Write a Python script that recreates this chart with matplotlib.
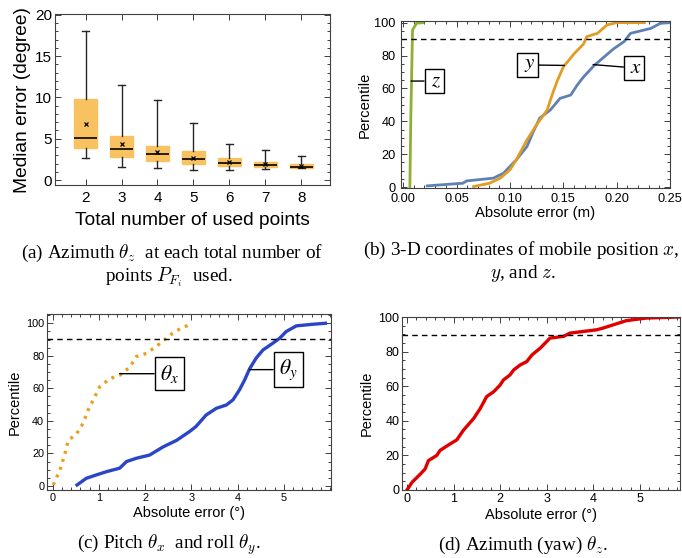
import matplotlib
matplotlib.use("Agg")
import matplotlib.pyplot as plt
from matplotlib.ticker import MultipleLocator

plt.rcParams['font.family'] = ['Liberation Sans', 'DejaVu Sans']
plt.rcParams['mathtext.fontset'] = 'stix'

# (a) box plot stats, median azimuth error per number of used points
npoints = [2, 3, 4, 5, 6, 7, 8]
whis_lo = [2.63, 1.60, 1.41, 1.21, 1.21, 1.29, 1.48]
q1 = [3.84, 2.75, 2.34, 1.94, 1.70, 1.54, 1.50]
med = [5.05, 3.72, 3.11, 2.55, 2.02, 1.78, 1.62]
q3 = [9.78, 5.33, 4.12, 3.50, 2.67, 2.18, 1.94]
whis_hi = [18.1, 11.5, 9.7, 6.87, 4.32, 3.64, 2.90]
means = [6.75, 4.36, 3.39, 2.70, 2.18, 1.90, 1.74]

# (b) CDF of position error (m)
bx_err = [0.0226, 0.056, 0.0595, 0.0846, 0.094, 0.106, 0.116, 0.122, 0.128, 0.138, 0.147,
          0.157, 0.163, 0.169, 0.179, 0.188, 0.197, 0.207, 0.213, 0.232, 0.241, 0.25]
bx_pct = [0.8, 2.4, 3.8, 5.5, 8.5, 16.6, 24.7, 33.8, 42, 47, 54,
          56, 62, 67, 74, 79, 84, 88.5, 93.5, 96.5, 99.6, 100]
by_err = [0.066, 0.081, 0.091, 0.100, 0.106, 0.116, 0.125, 0.135, 0.139, 0.144, 0.150,
          0.160, 0.169, 0.172, 0.182, 0.191, 0.200, 0.226]
by_pct = [0.4, 2.4, 5.5, 10.5, 16.6, 28.7, 37.9, 47, 55, 64, 73,
          81, 87, 91.5, 93.5, 98.6, 100, 100]
bz_err = [0.0063, 0.0072, 0.0088, 0.0125, 0.0185]
bz_pct = [0, 43, 95.5, 99.6, 100]

# (c) pitch / roll error (deg)
tx_err = [0.014, 0.16, 0.27, 0.34, 0.52, 0.66, 0.77, 0.88, 1.02, 1.24, 1.45, 1.67, 1.81,
          2.03, 2.24, 2.46, 2.60, 2.78, 2.96]
tx_pct = [0.6, 9.8, 20, 28, 32, 38.5, 46.7, 52.9, 61, 66, 68, 73, 79.5,
          81.5, 85.7, 90.8, 93.9, 97, 99]
ty_err = [0.53, 0.73, 0.95, 1.17, 1.45, 1.60, 1.81, 2.10, 2.39, 2.68, 2.96, 3.10, 3.32, 3.54,
          3.76, 3.90, 4.04, 4.15, 4.26, 4.40, 4.55, 4.76, 4.91, 5.05, 5.27, 5.63, 5.90]
ty_pct = [0.6, 4.7, 6.8, 8.8, 10.9, 15, 17, 19, 24, 28, 33.4, 36.5, 43.6, 47.7,
          49.8, 52.9, 59, 65, 72, 78.5, 83.6, 87.7, 90.8, 94.9, 98.4, 99.4, 100]

# (d) yaw error (deg)
tz_err = [0, 0.11, 0.29, 0.39, 0.46, 0.64, 0.71, 0.93, 1.07, 1.21, 1.43, 1.57, 1.71, 1.86,
          2.00, 2.07, 2.21, 2.29, 2.43, 2.57, 2.68, 2.86, 3.07, 3.36, 3.50, 4.07, 4.21,
          4.43, 4.71, 5.14, 5.86]
tz_pct = [0, 4.5, 9.3, 12.2, 17, 20, 22.9, 26.7, 29, 34.5, 41.3, 47, 54, 56.8,
          60.7, 63.6, 66.5, 69.4, 72.3, 74.2, 78, 82, 87.8, 88.8, 90.7, 92.6, 93.6,
          95.5, 97.9, 99.4, 100]

W, H = 682, 558
fig = plt.figure(figsize=(W / 100, H / 100), dpi=100)


def axes_px(left, top, right, bottom):
    return fig.add_axes([left / W, 1 - bottom / H, (right - left) / W, (bottom - top) / H])


def frame(ax, size):
    for s in ax.spines.values():
        s.set_color('0.25')
        s.set_linewidth(0.8)
    ax.tick_params(which='both', direction='in', top=True, right=True, colors='0.25',
                   labelcolor='black', labelsize=size, width=0.7, pad=2)
    ax.tick_params(which='major', length=4)
    ax.tick_params(which='minor', length=2)


def tag(ax, text, xy, xytext, size, pad):
    ax.annotate(text, xy=xy, xytext=xytext, ha='center', va='center', fontsize=size,
                bbox=dict(boxstyle='square,pad=%g' % pad, fc='white', ec='black', lw=1),
                arrowprops=dict(arrowstyle='-', color='black', lw=1, shrinkA=0, shrinkB=0))


# ---- (a)
ax = axes_px(55, 14, 330, 185)
stats = []
for i in range(len(npoints)):
    stats.append(dict(whislo=whis_lo[i], q1=q1[i], med=med[i], q3=q3[i], whishi=whis_hi[i],
                      mean=means[i], fliers=[]))
ax.bxp(stats, positions=npoints, widths=0.65, patch_artist=True, showmeans=True,
       boxprops=dict(facecolor='#F9C260', edgecolor='#F9C260'),
       medianprops=dict(color='black', lw=1.2),
       whiskerprops=dict(color='0.15', lw=1), capprops=dict(color='0.15', lw=1),
       capwidths=0.2,
       meanprops=dict(marker='x', markeredgecolor='black', markersize=3.5, markeredgewidth=0.9))
ax.set_xlim(1.15, 8.8)
ax.set_ylim(-0.6, 20.1)
ax.set_xticks(npoints)
ax.set_xticklabels([str(n) for n in npoints])
ax.yaxis.set_major_locator(MultipleLocator(5))
ax.yaxis.set_minor_locator(MultipleLocator(1))
frame(ax, 11)
ax.tick_params(axis='x', pad=4)
ax.set_xlabel('Total number of used points', fontsize=13.8, labelpad=5)
ax.set_ylabel('Median error (degree)', fontsize=13.8, labelpad=3)

# ---- (b)
ax = axes_px(401, 21, 670, 188)
ax.plot(bz_err, bz_pct, color='#8FB032', lw=2)
ax.plot(bx_err, bx_pct, color='#5E81B5', lw=2)
ax.plot(by_err, by_pct, color='#E19C24', lw=2)
ax.axhline(90, color='black', lw=1, ls=(0, (4, 3)))
ax.set_xlim(-0.002, 0.25)
ax.set_ylim(-0.5, 101)
ax.xaxis.set_minor_locator(MultipleLocator(0.01))
ax.yaxis.set_major_locator(MultipleLocator(20))
ax.yaxis.set_minor_locator(MultipleLocator(5))
ax.set_xticks([0, 0.05, 0.1, 0.15, 0.2, 0.25])
ax.set_xticklabels(['0.00', '0.05', '0.10', '0.15', '0.20', '0.25'])
frame(ax, 9.2)
ax.tick_params(axis='y', pad=4)
ax.tick_params(axis='x', pad=3.5)
ax.set_xlabel('Absolute error (m)', fontsize=10.7, labelpad=1)
ax.set_ylabel('Percentile', fontsize=10.7, labelpad=2)
tag(ax, r'$\;z\;$', (0.0075, 64.5), (0.029, 64.5), 15, 0.12)
tag(ax, r'$\;y\;$', (0.151, 74), (0.1165, 74.3), 15, 0.12)
tag(ax, r'$\;x\;$', (0.178, 74.5), (0.2165, 72.5), 15, 0.12)

# ---- (c)
ax = axes_px(47, 314, 331, 490)
ax.plot(tx_err, tx_pct, color='#E8A020', lw=2.4, ls=(0, (0.9, 1.6)))
ax.plot(ty_err, ty_pct, color='#2A45C8', lw=2.4)
ax.axhline(90.5, color='black', lw=1, ls=(0, (4, 3)))
ax.set_xlim(-0.12, 6.02)
ax.set_ylim(-2.5, 105.7)
ax.set_xticks([0, 1, 2, 3, 4, 5])
ax.xaxis.set_minor_locator(MultipleLocator(0.2))
ax.yaxis.set_major_locator(MultipleLocator(20))
ax.yaxis.set_minor_locator(MultipleLocator(5))
frame(ax, 7.8)
ax.set_xlabel('Absolute error (°)', fontsize=10.5, labelpad=2)
ax.set_ylabel('Percentile', fontsize=10.5, labelpad=3)
tag(ax, r'$\theta_x$', (1.45, 69), (2.53, 69), 15.5, 0.25)
tag(ax, r'$\theta_y$', (4.26, 71.5), (5.1, 71.5), 15.5, 0.25)

# ---- (d)
ax = axes_px(402, 317, 680, 490)
ax.plot(tz_err, tz_pct, color='#E00000', lw=2.4)
ax.axhline(89.7, color='black', lw=1, ls=(0, (4, 3)))
ax.set_xlim(-0.107, 5.86)
ax.set_ylim(0, 100)
ax.xaxis.set_major_locator(MultipleLocator(1))
ax.xaxis.set_minor_locator(MultipleLocator(0.2))
ax.yaxis.set_major_locator(MultipleLocator(20))
ax.yaxis.set_minor_locator(MultipleLocator(5))
frame(ax, 9)
ax.set_xlabel('Absolute error (°)', fontsize=10.5, labelpad=2)
ax.set_ylabel('Percentile', fontsize=10.5, labelpad=3)

# ---- captions
cap = dict(fontsize=13.8, family=['Liberation Serif', 'DejaVu Serif'], ha='center', va='center',
           math_fontfamily='cm')
fig.text(172 / W, 1 - 253 / H, r'(a) Azimuth $\theta_z$  at each total number of', **cap)
fig.text(169 / W, 1 - 277 / H, r'points $P_{F_i}$  used.', **cap)
fig.text(521 / W, 1 - 250 / H, r'(b) 3-D coordinates of mobile position $x$,', **cap)
fig.text(523 / W, 1 - 273 / H, r'$y$, and $z$.', **cap)
fig.text(169 / W, 1 - 545 / H, r'(c) Pitch $\theta_x$  and roll $\theta_y$.', **cap)
fig.text(523 / W, 1 - 545 / H, r'(d) Azimuth (yaw) $\theta_z$.', **cap)

fig.savefig('out.png', dpi=100)
